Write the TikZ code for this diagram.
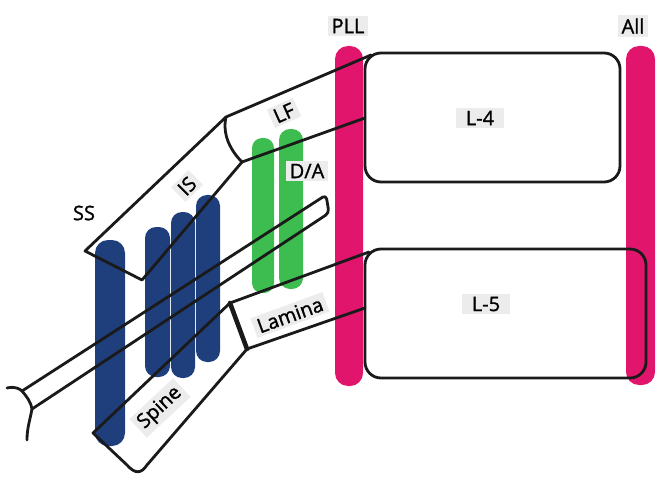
\documentclass[tikz,border=0pt]{standalone}
\usepackage{fontspec}
\setmainfont{Open Sans}
\newfontfamily\labelfont{Open Sans}[FakeBold=1.2]
\definecolor{navy}{HTML}{1E3F7C}
\definecolor{leaf}{HTML}{3DBD4F}
\definecolor{rose}{HTML}{E0156B}
\definecolor{tag}{HTML}{ECECEC}
\definecolor{ink}{HTML}{1A1A1A}
\begin{document}
\begin{tikzpicture}[x=1pt,y=-1pt,
  vbar/.style={shape=rectangle, fill=#1, draw=none, inner sep=0pt},
  outline/.style={draw=ink, line width=2.8pt, line join=round, line cap=round},
  disc/.style={shape=rectangle, draw=ink, line width=2.8pt, rounded corners=16pt, inner sep=0pt},
  tagbox/.style={fill=tag, text=black, inner xsep=4pt, inner ysep=3pt, font=\labelfont\fontsize{20}{23}\selectfont},
  plain/.style={text=black, inner sep=2pt, font=\labelfont\fontsize{20}{23}\selectfont}]
\useasboundingbox (0,0) rectangle (668,486);

% ligament bars
\node[vbar=rose, minimum width=28pt, minimum height=340pt, rounded corners=13pt] (pll) at (349,216) {};
\node[vbar=rose, minimum width=29pt, minimum height=339pt, rounded corners=13pt] (all) at (640.5,215.5) {};

% facet / articular bars
\node[vbar=leaf, minimum width=22pt, minimum height=155pt, rounded corners=10pt] (g1) at (263,215.5) {};
\node[vbar=leaf, minimum width=24pt, minimum height=160pt, rounded corners=11pt] (g2) at (291,209) {};

% spinous bars
\node[vbar=navy, minimum width=30pt, minimum height=206pt, rounded corners=13pt] (ssbar) at (110,343) {};
\node[vbar=navy, minimum width=25pt, minimum height=150pt, rounded corners=11pt] (b2) at (157.5,302) {};
\node[vbar=navy, minimum width=24pt, minimum height=166pt, rounded corners=11pt] (b3) at (183,295) {};
\node[vbar=navy, minimum width=24pt, minimum height=167pt, rounded corners=11pt] (b4) at (208,278.5) {};

% vertebral bodies
\node[disc, minimum width=255pt, minimum height=129pt] (l4) at (492.5,117.5) {};
\node[disc, minimum width=281pt, minimum height=129pt] (l5) at (505.5,313.5) {};

% outline corner points
\coordinate (lfTL) at (226,117);
\coordinate (lfBL) at (242,162);
\coordinate (ssTip) at (85,251);
\coordinate (isV) at (142,280);
\coordinate (l4TL) at (371,55);
\coordinate (l4ML) at (365,118);
\coordinate (l5TL) at (369,252);
\coordinate (l5ML) at (365,308);
\coordinate (laTL) at (230,303);
\coordinate (laBL) at (247,349);
\coordinate (spL) at (93,433);
\coordinate (spB1) at (127,465);
\coordinate (spB2) at (147,465);
\coordinate (tuUL) at (22,391);
\coordinate (tuLL) at (32,409);
\coordinate (tuTR) at (326,195);
\coordinate (tuBR) at (329,213);

% interspinous / supraspinous outline and ligamentum flavum
\draw[outline] (lfBL) -- (isV) -- (ssTip) -- (lfTL);
\draw[outline] (lfTL) .. controls (222,135) and (231,151) .. (lfBL);
\draw[outline] (lfTL) -- (l4TL);
\draw[outline] (lfBL) -- (l4ML);

% long process tube with its forked end
\draw[outline, rounded corners=4pt] (tuUL) -- (tuTR) -- (tuBR) -- (tuLL);
\draw[outline] (7,388) .. controls (15,386) and (20,389) .. (tuUL)
  .. controls (27,397) and (31,402) .. (tuLL)
  .. controls (30,420) and (27,428) .. (27,440);

% spine and lamina
\draw[outline] (laTL) -- (spL) -- (spB1) .. controls (135,474) and (141,474) .. (spB2) -- (laBL);
\draw[outline] (laTL) -- (l5TL);
\draw[outline] (laBL) -- (l5ML);
\draw[ink, line width=4.6pt, line cap=round] (laTL) -- (laBL);

% labels
\node[tagbox] (tPLL) at (348,26) {PLL};
\node[tagbox] (tAll) at (633,26) {All};
\node[tagbox, inner xsep=10pt] (tL4) at (480,118) {L-4};
\node[tagbox, inner xsep=10pt] (tL5) at (486,304) {L-5};
\node[tagbox, rotate=24] (tLF) at (284,113) {LF};
\node[tagbox] (tDA) at (307,171) {D/A};
\node[plain] (tSS) at (84,213) {SS};
\node[tagbox, rotate=45] (tIS) at (187,186) {IS};
\node[tagbox, rotate=20] (tLam) at (290,315) {Lamina};
\node[tagbox, rotate=43] (tSp) at (160,408) {Spine};
\end{tikzpicture}
\end{document}
